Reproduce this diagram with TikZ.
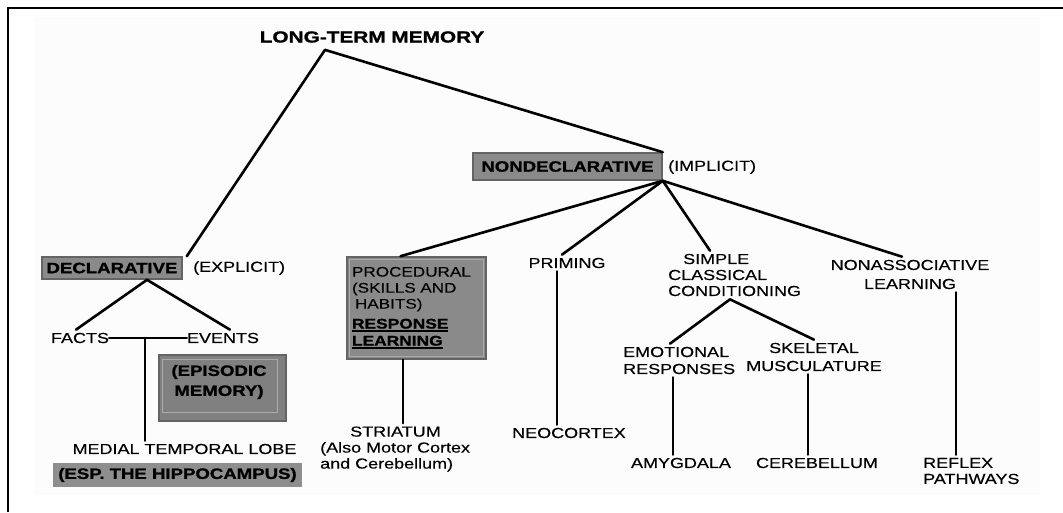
\documentclass[tikz,border=0pt]{standalone}
\usepackage{fontspec}
\setmainfont{Liberation Sans}
\newfontfamily\rfont[FakeStretch=1.24, FakeBold=0.35, BoldFeatures={FakeBold=1.2}]{Liberation Sans}
\newfontfamily\tfont[FakeStretch=1.3, BoldFeatures={FakeBold=1.2}]{Liberation Sans}
\usetikzlibrary{calc}
\definecolor{boxfill}{RGB}{138,138,138}
\definecolor{boxedge}{RGB}{100,100,100}
\definecolor{boxinner}{RGB}{170,170,170}
\definecolor{epifill}{RGB}{128,128,128}
\definecolor{hipfill}{RGB}{142,142,142}
\definecolor{bgfill}{RGB}{252,252,252}
\newcommand\thickul[1]{\leavevmode\setbox0\hbox{#1}\rlap{\rule[-3.5pt]{\wd0}{1.6pt}}\box0}
\begin{document}
\begin{tikzpicture}[x=1pt,y=-1pt,
 conn/.style={line width=2.6pt, black, line cap=round},
 txt/.style={inner xsep=0pt, inner ysep=3pt, text=black, font=\rfont\fontsize{14.5}{16}\selectfont},
 btxt/.style={txt, font=\rfont\bfseries\fontsize{15}{19}\selectfont},
 gbox/.style={draw=boxedge, fill=boxfill, line width=1.6pt, inner sep=0pt, text=black, font=\rfont\bfseries\fontsize{15}{19}\selectfont},
 innerln/.style={draw=boxinner, line width=1pt},
]
\useasboundingbox (0,0) rectangle (1063,512);
\fill[white] (0,0) rectangle (1063,512);
\fill[bgfill] (35,17) rectangle (1040,495);
\draw[line width=2.5pt] (8,512) -- (8,8) -- (1063,8);

% nodes
\node[btxt, font=\tfont\bfseries\fontsize{16}{19}\selectfont] (ltm) at (372,37) {LONG-TERM MEMORY};
\node[gbox, minimum width=140pt, minimum height=22pt] (decl) at (112,268) {DECLARATIVE};
\node[txt, anchor=west] (expl) at (193,268) {(EXPLICIT)};
\node[gbox, minimum width=189pt, minimum height=27pt] (nondecl) at (567.5,166.5) {NONDECLARATIVE};
\node[txt, anchor=west] (impl) at (668,167) {(IMPLICIT)};

\node[txt] (facts) at (80,338) {FACTS};
\node[txt] (events) at (223,338) {EVENTS};
\node[gbox, fill=epifill, minimum width=127pt, minimum height=66pt] (epi) at (222.5,388) {};
\draw[innerln] ([shift={(4,5)}]epi.north west) rectangle ([shift={(-9,-9)}]epi.south east);
\node[btxt, align=center, font=\rfont\bfseries\fontsize{15}{20}\selectfont] (epitext) at (219,382) {(EPISODIC\\MEMORY)};
\node[txt] (medial) at (184.5,449) {MEDIAL TEMPORAL LOBE};
\node[gbox, fill=hipfill, draw=none, minimum width=249pt, minimum height=24pt] (hippo) at (177.5,475) {(ESP. THE HIPPOCAMPUS)};

\node[gbox, font=\rfont\fontsize{13.8}{16}\selectfont, minimum width=139pt, minimum height=102pt, text width=129pt, inner xsep=5pt, align=left] (proc) at (416.5,308)
 {PROCEDURAL\\(SKILLS AND\\\hspace*{3pt}HABITS)\\[4pt]{\bfseries\fontsize{14}{18}\selectfont\thickul{RESPONSE}}\\[1pt]{\bfseries\fontsize{14}{18}\selectfont\thickul{LEARNING}}};
\draw[innerln] ([shift={(3,3)}]proc.north west) rectangle ([shift={(-3,-3)}]proc.south east);
\node[txt, anchor=west, align=left] (stri) at (320,449) {\hspace*{30pt}STRIATUM\\(Also Motor Cortex\\and Cerebellum)};

\node[txt] (prim) at (567,263) {PRIMING};
\node[txt] (neo) at (569,433) {NEOCORTEX};
\node[txt, anchor=west, align=left] (simple) at (668,275) {\hspace*{15pt}SIMPLE\\CLASSICAL\\CONDITIONING};
\node[txt, anchor=west, align=left, font=\rfont\fontsize{14.5}{17}\selectfont] (emo) at (623,360.5) {EMOTIONAL\\RESPONSES};
\node[txt, align=center, font=\rfont\fontsize{14.5}{18}\selectfont] (skel) at (814,357) {SKELETAL\\MUSCULATURE};
\node[txt] (amy) at (681,463) {AMYGDALA};
\node[txt] (cereb) at (817,463) {CEREBELLUM};
\node[txt, align=center, font=\rfont\fontsize{14.5}{19}\selectfont] (nonas) at (910,274.5) {NONASSOCIATIVE\\LEARNING};
\node[txt, anchor=west, align=left] (reflex) at (923,471) {REFLEX\\PATHWAYS};

% connectors
\path ([xshift=-47pt,yshift=-4pt]ltm.south) coordinate (ltmA);
\draw[conn] (ltmA) -- ([xshift=4pt]decl.north east);
\draw[conn] (ltmA) -- (nondecl.north east);
\draw[conn] (nondecl.south east) -- ([xshift=-16pt]proc.north);
\draw[conn] (nondecl.south east) -- ([xshift=-5pt]prim.north);
\draw[conn] (nondecl.south east) -- ([xshift=42pt]simple.north west);
\draw[conn] (nondecl.south east) -- ([xshift=-8pt]nonas.north);

\path ([xshift=35pt]decl.south) coordinate (dA);
\draw[conn] (dA) -- ([xshift=-4pt]facts.north);
\draw[conn] (dA) -- ([xshift=7pt]events.north);
\draw[conn] (facts.east) -- (events.west);
\path ($(facts.east)!0.46!(events.west)$) coordinate (fe);
\draw[conn] (fe) -- (fe |- medial.north);

\path ([xshift=-13.5pt]proc.south) coordinate (pb);
\draw[conn] (pb) -- (pb |- stri.north);
\path ([xshift=-10pt]prim.south) coordinate (pr);
\draw[conn] (pr) -- (pr |- neo.north);

\path ([xshift=62pt]simple.south west) coordinate (sA);
\draw[conn] (sA) -- ([xshift=47pt]emo.north west);
\draw[conn] (sA) -- (skel.north);
\path ([xshift=50pt]emo.south west) coordinate (eb);
\draw[conn] (eb) -- (eb |- amy.north);
\path ([xshift=-6pt]skel.south) coordinate (kb);
\draw[conn] (kb) -- (kb |- cereb.north);
\path ([xshift=46pt]nonas.south) coordinate (nb);
\draw[conn] (nb) -- (nb |- reflex.north);
\end{tikzpicture}
\end{document}
